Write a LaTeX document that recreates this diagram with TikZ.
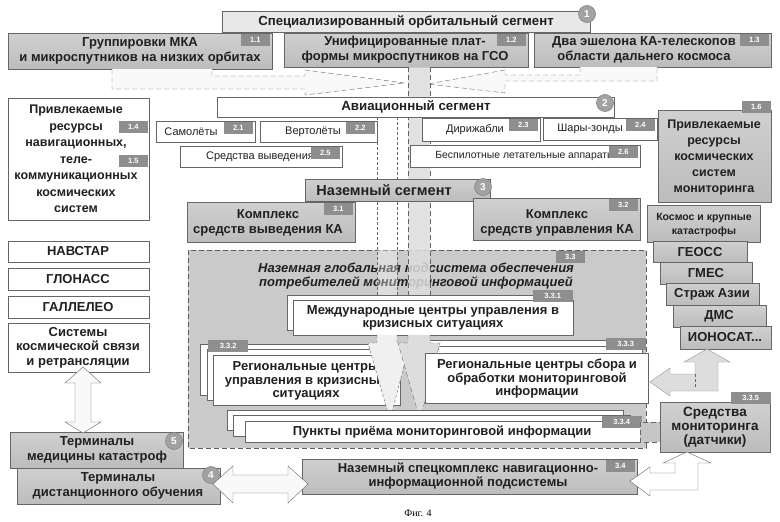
\documentclass[tikz,border=0pt]{standalone}
\usepackage{fontspec}
\setmainfont{Liberation Sans}
\newfontfamily\serifcap{Liberation Serif}
\usetikzlibrary{fit}
\definecolor{lc}{HTML}{666666}
\definecolor{gb}{HTML}{C6C6C6}
\definecolor{gbt}{HTML}{D0D0D0}
\definecolor{gbb}{HTML}{BCBCBC}
\definecolor{tb}{HTML}{E8E8E8}
\definecolor{tagc}{HTML}{8E8E8E}
\definecolor{circc}{HTML}{A2A2A2}
\definecolor{regc}{HTML}{CACACA}
\definecolor{stripc}{HTML}{DDDDDD}
\definecolor{txtc}{HTML}{202020}
\begin{document}
\begin{tikzpicture}[x=1pt,y=-1pt,
 base/.style={draw=lc, line width=0.8pt, inner sep=0pt},
 gbox/.style={base, top color=gbt, bottom color=gbb},
 wbox/.style={base, fill=white},
 lbox/.style={base, fill=tb},
 bt/.style={font=\bfseries\fontsize{13}{15}\selectfont, align=center, text=txtc, inner sep=0pt},
 bts/.style={font=\bfseries\fontsize{10.5}{14}\selectfont, align=center, text=txtc, inner sep=0pt},
 rt/.style={font=\fontsize{11}{13}\selectfont, align=center, text=txtc, inner sep=0pt},
 tag/.style={fill=tagc, text=white, font=\bfseries\fontsize{7.5}{8}\selectfont, minimum width=29pt, minimum height=12pt, inner sep=1pt, anchor=north east},
 tagw/.style={tag, minimum width=40pt},
 circ/.style={circle, fill=circc, draw=lc!80, line width=0.6pt, text=white, font=\bfseries\fontsize{10}{10}\selectfont, minimum size=17pt, inner sep=0pt},
 dsh/.style={dash pattern=on 5pt off 3pt},
 dsf/.style={dash pattern=on 3pt off 2pt},
]
\useasboundingbox (0,0) rectangle (780,522);
\fill[white] (0,0) rectangle (780,522);

% ---- orbital segment
\node[lbox, fit={(222,11)(590,32)}] (seg1) {};
\node[bt, font=\bfseries\fontsize{13.2}{15}\selectfont] at (406,21.5) {Специализированный орбитальный сегмент};
\node[circ] (c1) at (587,14) {1};

\node[gbox, fit={(8,33)(272,69)}] (b11) {};
\node[bt] at (140,51) {Группировки МКА\\и микроспутников на низких орбитах};
\node[tag] (t11) at (270,34) {1.1};
\node[gbox, fit={(284,33)(528,67)}] (b12) {};
\node[bt] at (405,50) {Унифицированные плат-\\формы микроспутников на ГСО};
\node[tag] (t12) at (526,34) {1.2};
\node[gbox, fit={(534,33)(771,67)}] (b13) {};
\node[bt] at (644,50) {Два эшелона КА-телескопов\\области дальнего космоса};
\node[tag] (t13) at (769,34) {1.3};

% ---- dashed arrows from 1.1 and 1.3
\draw[lc, dsh, fill=gray!5] (112,69) -- (112,89) -- (305,89) -- (305,95) -- (405,83) -- (305,70) -- (305,76) -- (212,76) -- (212,69);
\draw[lc, dsh, fill=gray!5] (580,67) -- (580,75) -- (505,75) -- (505,70) -- (428,84) -- (505,93) -- (505,81) -- (657,81) -- (657,67);

% ---- region 3.3
\filldraw[fill=regc, draw=lc!90!black, dsh] (188,250) rectangle (646,448);
\node[tag] (t33) at (585,251) {3.3};
\node[font=\bfseries\itshape\fontsize{13}{13.5}\selectfont, align=center, text=txtc] (r33) at (416,276) {Наземная глобальная подсистема обеспечения\\потребителей мониторинговой информацией};

% ---- vertical strips
\fill[stripc, opacity=0.85] (408,67) rectangle (430,335);
\fill[white, opacity=0.35] (377,117) rectangle (397,335);
\draw[lc, dsh] (408,67) -- (408,335) (430,67) -- (430,335);
\draw[lc, dsf] (377,117) -- (377,335) (397,117) -- (397,335);

% ---- aviation segment
\node[wbox, fit={(217,97)(614,117)}] (seg2) {};
\node[bt, font=\bfseries\fontsize{13.3}{15}\selectfont] at (416,107) {Авиационный сегмент};
\node[circ] (c2) at (605,103) {2};

\node[wbox, fit={(156,121)(255,142)}] (b21) {};
\node[rt] at (191,132) {Самолёты};
\node[tag] (t21) at (253,122) {2.1};
\node[wbox, fit={(260,121)(377,142)}] (b22) {};
\node[rt] at (313,132) {Вертолёты};
\node[tag] (t22) at (375,122) {2.2};
\node[wbox, fit={(422,118)(540,141)}] (b23) {};
\node[rt] at (475,129.5) {Дирижабли};
\node[tag] (t23) at (538,119) {2.3};
\node[wbox, fit={(543,118)(657,140)}] (b24) {};
\node[rt] at (590,129) {Шары-зонды};
\node[tag] (t24) at (655,119) {2.4};
\node[wbox, fit={(180,146)(342,167)}] (b25) {};
\node[rt] at (260,157) {Средства выведения};
\node[tag] (t25) at (340,147) {2.5};
\node[wbox, fit={(410,145)(640,167)}] (b26) {};
\node[rt, font=\fontsize{10.4}{13}\selectfont] at (525,156) {Беспилотные летательные аппараты};
\node[tag] (t26) at (638,146) {2.6};

% ---- 1.6 and 1.4/1.5
\node[gbox, fit={(658,110)(771,202)}] (b16) {};
\node[font=\bfseries\fontsize{12.5}{16}\selectfont, align=center, text=txtc] at (714,157) {Привлекаемые\\ресурсы\\космических\\систем\\мониторинга};
\node[tag] (t16) at (771,101) {1.6};

\node[wbox, fit={(8,98)(149,220)}] (b14) {};
\node[font=\bfseries\fontsize{12.5}{16.5}\selectfont, align=center, text=txtc] at (76,159) {Привлекаемые\\ресурсы\\навигационных,\\теле-\\коммуникационных\\космических\\систем};
\node[tag] (t14) at (148,121) {1.4};
\node[tag] (t15) at (148,155) {1.5};

% ---- ground segment
\node[gbox, fit={(305,179)(490,201)}] (seg3) {};
\node[font=\bfseries\fontsize{14.5}{15}\selectfont, text=txtc] at (384,190) {Наземный сегмент};
\node[circ] (c3) at (483,187) {3};

\node[gbox, fit={(187,202)(355,242)}] (b31) {};
\node[bt] at (268,222.5) {Комплекс\\средств выведения КА};
\node[tag] (t31) at (353,203) {3.1};
\node[gbox, fit={(473,198)(640,240)}] (b32) {};
\node[bt] at (557,222.5) {Комплекс\\средств управления КА};
\node[tag] (t32) at (638,199) {3.2};

% ---- right column
\node[gbox, fit={(647,205)(760,242)}] (kos) {};
\node[bts] at (704,224.5) {Космос и крупные\\катастрофы};
\node[gbox, fit={(653,241)(747,262)}] (geo) {};
\node[bt] at (700,252) {ГЕОСС};
\node[gbox, fit={(660,262)(752,284)}] (gmes) {};
\node[bt] at (706,273) {ГМЕС};
\node[gbox, fit={(666,283)(759,305)}] (straj) {};
\node[bt] at (712,294) {Страж Азии};
\node[gbox, fit={(673,305)(766,327)}] (dms) {};
\node[bt] at (719,316) {ДМС};
\node[gbox, fit={(680,326)(771,349)}] (iono) {};
\node[bt] at (725,337.5) {ИОНОСАТ...};

% ---- left column
\node[wbox, fit={(8,241)(149,262)}] (nav) {};
\node[bt] at (78,251.5) {НАВСТАР};
\node[wbox, fit={(8,268)(149,290)}] (glo) {};
\node[bt] at (78,279) {ГЛОНАСС};
\node[wbox, fit={(8,296)(149,318)}] (gal) {};
\node[bt] at (78,307) {ГАЛЛЕЛЕО};
\node[wbox, fit={(8,323)(149,372)}] (ksv) {};
\node[font=\bfseries\fontsize{13}{14.5}\selectfont, align=center, text=txtc] at (78,347.5) {Системы\\космической связи\\и ретрансляции};

% ---- 3.3.1
\draw[base, fill=white] (287,295) rectangle (567,330);
\node[wbox, fit={(293,300)(573,335)}] (b331) {};
\node[font=\bfseries\fontsize{13}{13.5}\selectfont, align=center, text=txtc] at (433,318) {Международные центры управления в\\кризисных ситуациях};
\node[tagw] (t331) at (573,290) {3.3.1};

% ---- 3.3.2
\draw[base, fill=white] (200,344) rectangle (395,395);
\draw[base, fill=white] (207,349) rectangle (398,400);
\node[wbox, fit={(213,355)(400,405)}] (b332) {};
\node[font=\bfseries\fontsize{13}{13.5}\selectfont, align=center, text=txtc] at (306,381) {Региональные центры\\управления в кризисных\\ситуациях};
\node[tagw, anchor=north west] (t332) at (208,340) {3.3.2};

% ---- 3.3.3 back layers
\draw[base, fill=white] (413,340) rectangle (636,391);
\draw[base, fill=white] (419,346) rectangle (642,397);

% ---- arrow heads down to 3.3.4
\filldraw[fill=gray!12, draw=lc, dsf] (377,335) -- (377,343) -- (368,343) -- (390,420) -- (410,343) -- (397,343) -- (397,335);
\filldraw[fill=stripc, draw=lc, dsh] (408,335) -- (408,343) -- (398,343) -- (420,420) -- (440,343) -- (430,343) -- (430,335);

% ---- 3.3.3 front
\node[wbox, fit={(425,353)(648,403)}] (b333) {};
\node[font=\bfseries\fontsize{13}{13.5}\selectfont, align=center, text=txtc] at (537,379) {Региональные центры сбора и\\обработки мониторинговой\\информации};
\node[tagw] (t333) at (646,338) {3.3.3};

% ---- 3.3.4
\draw[base, fill=white] (227,410) rectangle (623,430);
\draw[base, fill=white] (233,415) rectangle (630,436);
\node[wbox, fit={(245,421)(640,442)}] (b334) {};
\node[bt] at (442,432) {Пункты приёма мониторинговой информации};
\node[tagw] (t334) at (642,416) {3.3.4};

% ---- 3.3.5
\filldraw[fill=gb, draw=lc, dsh] (640,422) rectangle (660,442);
\node[gbox, fit={(660,402)(770,452)}] (b335) {};
\node[font=\bfseries\fontsize{13.5}{14}\selectfont, align=center, text=txtc] at (715,427) {Средства\\мониторинга\\(датчики)};
\node[tagw] (t335) at (771,392) {3.3.5};

% ---- arrow IONOSAT -> 3.3.3
\filldraw[fill=stripc, draw=lc!70] (650,382) -- (670,368) -- (670,374) -- (695,374) -- (695,362) -- (684,362) -- (707,349) -- (730,362) -- (718,362) -- (718,391) -- (670,391) -- (670,396) -- cycle;
\draw[lc, dsf] (695,374) -- (695,388);

% ---- 3.4
\node[gbox, fit={(302,459)(637,494)}] (b34) {};
\node[font=\bfseries\fontsize{13}{14}\selectfont, align=center, text=txtc] at (468,476) {Наземный спецкомплекс навигационно-\\информационной подсистемы};
\node[tag] (t34) at (635,460) {3.4};

% ---- arrow 3.3.5 <-> 3.4
\filldraw[fill=white, draw=lc] (630,481) -- (650,467) -- (650,473) -- (675,473) -- (675,463) -- (663,463) -- (687,452) -- (711,463) -- (698,463) -- (698,490) -- (650,490) -- (650,496) -- cycle;

% ---- terminals
\node[gbox, fit={(10,432)(183,468)}] (b5) {};
\node[bt] at (97,450) {Терминалы\\медицины катастроф};
\node[circ] (c5) at (174,441) {5};
\node[gbox, fit={(17,468)(220,504)}] (b4) {};
\node[bt] at (118,486) {Терминалы\\дистанционного обучения};
\node[circ] (c4) at (211,475) {4};

% ---- double arrows
\filldraw[fill=gray!5, draw=lc] (213,484) -- (233,466) -- (233,475) -- (288,475) -- (288,466) -- (308,484) -- (288,503) -- (288,493) -- (233,493) -- (233,503) -- cycle;
\filldraw[fill=gray!5, draw=lc] (83,367) -- (101,383) -- (91,383) -- (91,422) -- (101,422) -- (83,433) -- (65,422) -- (75,422) -- (75,383) -- (65,383) -- cycle;

% ---- caption
\node[font=\serifcap\fontsize{10}{12}\selectfont] (cap) at (418,513) {Фиг. 4};
\end{tikzpicture}
\end{document}
